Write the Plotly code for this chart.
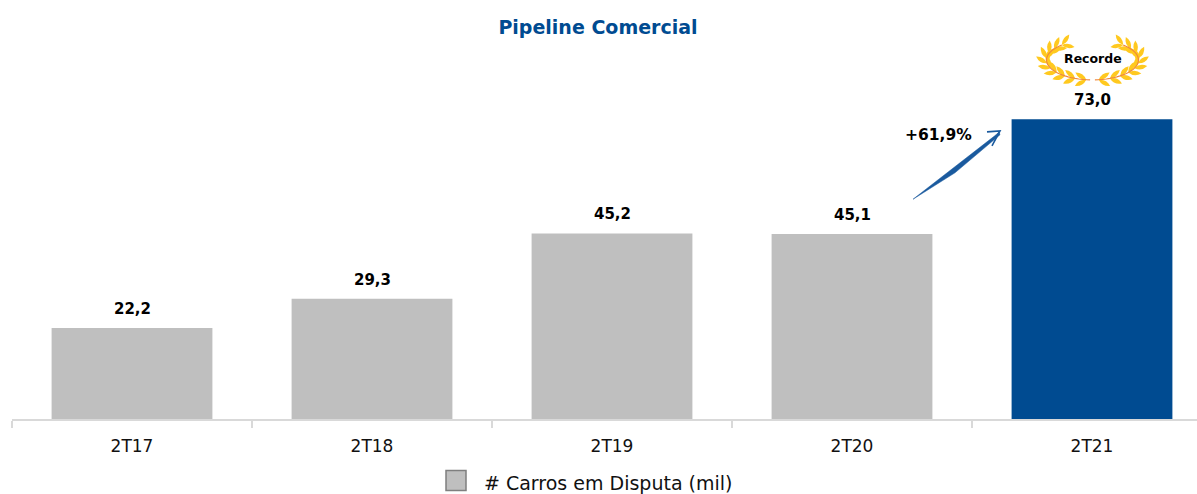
import math
import plotly.graph_objects as go

categories = ["2T17", "2T18", "2T19", "2T20", "2T21"]
values = [22.2, 29.3, 45.2, 45.1, 73.0]
series_name = "# Carros em Disputa (mil)"
title_text = "Pipeline Comercial"
growth_text = "+61,9%"
record_text = "Recorde"

GRAY = "#BFBFBF"
BLUE = "#004B91"
FONT = "DejaVu Sans"
W, H = 1197, 494
L, BASE = 12, 419.5
PLOT_W = W - L


def px(x):
    return (x - L) / PLOT_W


def py(y):
    return (BASE - y) / BASE


def path(points, close=True):
    s = "M " + " L ".join(f"{px(x):.5f},{py(y):.5f}" for x, y in points)
    return s + (" Z" if close else "")


def leaf(x, y, ang, length, width):
    tx, ty = x + length * math.cos(ang), y + length * math.sin(ang)
    mx, my = (x + tx) / 2, (y + ty) / 2
    nx, ny = -math.sin(ang) * width, math.cos(ang) * width
    return (f"M {px(x):.5f},{py(y):.5f} "
            f"Q {px(mx + nx):.5f},{py(my + ny):.5f} {px(tx):.5f},{py(ty):.5f} "
            f"Q {px(mx - nx):.5f},{py(my - ny):.5f} {px(x):.5f},{py(y):.5f} Z")


shapes = []

# legend swatch
shapes.append(dict(type="rect", xref="paper", yref="paper",
                   x0=px(446), x1=px(466), y0=py(471), y1=py(491),
                   fillcolor=GRAY, line=dict(color="#7F7F7F", width=1.5)))

# growth arrow: tapered shaft and open head
shapes.append(dict(type="path", xref="paper", yref="paper",
                   path=path([(913, 199.5), (996, 135), (999, 132), (1000, 135), (955, 173)]),
                   fillcolor="#1A5A9E", line=dict(color="#1A5A9E", width=0.5)))
shapes.append(dict(type="path", xref="paper", yref="paper",
                   path=path([(987, 132), (1000, 131), (992, 146)], close=False),
                   fillcolor="rgba(0,0,0,0)", line=dict(color="#1A5A9E", width=1.6)))

# laurel wreath
CX, CY, RX, RY = 1092.5, 60, 46, 20
N = 29
for side in (-1, 1):
    stem = []
    for i in range(N):
        t = math.radians(42 + i * 135 / (N - 1))
        stem.append((CX + side * RX * math.sin(t), CY - RY * math.cos(t)))
    for i in range(0, N - 1, 3):
        x, y = stem[i]
        nx_, ny_ = stem[i + 1]
        dirang = math.atan2(ny_ - y, nx_ - x)
        for off in (-0.55, 0.55):
            shapes.append(dict(type="path", xref="paper", yref="paper",
                               path=leaf(x, y, dirang + math.pi + off, 13, 4.5),
                               fillcolor="#FFC91F", line=dict(color="#FFC91F", width=0)))
    shapes.append(dict(type="path", xref="paper", yref="paper",
                       path=path(stem, close=False),
                       line=dict(color="#F08A3C", width=1.2)))

annotations = [
    dict(x=c, y=v, xref="x", yref="y", text=f"<b>{v:.1f}</b>".replace(".", ","),
         showarrow=False, yshift=19, xanchor="center", yanchor="middle",
         font=dict(family=FONT, size=15, color="#000000"))
    for c, v in zip(categories, values)
]
annotations += [
    dict(x=px(938), y=py(135), xref="paper", yref="paper", text=f"<b>{growth_text}</b>",
         showarrow=False, xanchor="center", yanchor="middle",
         font=dict(family=FONT, size=15.5, color="#000000")),
    dict(x=px(1092.5), y=py(59), xref="paper", yref="paper", text=f"<b>{record_text}</b>",
         showarrow=False, xanchor="center", yanchor="middle",
         font=dict(family=FONT, size=12.5, color="#000000")),
    dict(x=px(481.5), y=py(484), xref="paper", yref="paper", text=series_name,
         xanchor="left", yanchor="middle", showarrow=False,
         font=dict(family=FONT, size=19, color="#111111")),
]

fig = go.Figure(go.Bar(
    x=categories, y=values, name=series_name, width=0.67,
    marker=dict(color=[GRAY, GRAY, GRAY, GRAY, BLUE], line=dict(width=0)),
    showlegend=False,
))

fig.update_layout(
    width=W, height=H,
    autosize=False,
    margin=dict(l=L, r=0, t=0, b=H - BASE, pad=0),
    paper_bgcolor="white", plot_bgcolor="white",
    title=dict(text=f"<b>{title_text}</b>", x=598 / W, y=1 - 27 / H, xanchor="center", yanchor="middle",
               font=dict(family=FONT, size=19, color=BLUE)),
    xaxis=dict(type="category", range=[-0.5, -0.5 + PLOT_W / 240], tickson="boundaries",
               ticks="outside", ticklen=7, tickwidth=2, tickcolor="#D9D9D9",
               showline=True, linecolor="#D9D9D9", linewidth=2, showgrid=False, zeroline=False,
               tickfont=dict(family=FONT, size=17, color="#111111"), ticklabelstandoff=11),
    yaxis=dict(range=[0, BASE / (300 / 73.0)], visible=False, showgrid=False, zeroline=False),
    shapes=shapes,
    annotations=annotations,
)

fig.write_html("out.html", config={"displayModeBar": False},
               post_script="document.body.style.margin='0';")
